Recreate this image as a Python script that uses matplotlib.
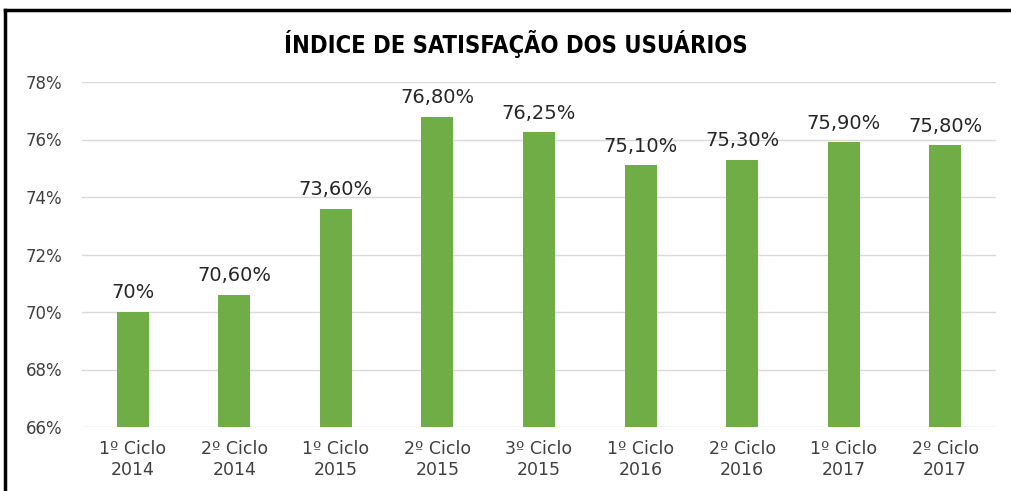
import matplotlib.pyplot as plt
from matplotlib.lines import Line2D
from matplotlib.ticker import FuncFormatter

categories = ["1º Ciclo\n2014", "2º Ciclo\n2014", "1º Ciclo\n2015", "2º Ciclo\n2015",
              "3º Ciclo\n2015", "1º Ciclo\n2016", "2º Ciclo\n2016", "1º Ciclo\n2017",
              "2º Ciclo\n2017"]
values = [70.0, 70.6, 73.6, 76.8, 76.25, 75.1, 75.3, 75.9, 75.8]
labels = ["70%", "70,60%", "73,60%", "76,80%", "76,25%", "75,10%", "75,30%", "75,90%", "75,80%"]
yticks = [66, 68, 70, 72, 74, 76, 78]

fig = plt.figure(figsize=(10.11, 4.91), dpi=100)
ax = fig.add_axes([82 / 1011, 1 - 427 / 491, (996 - 82) / 1011, (427 - 82) / 491])

x = range(len(values))
ax.bar(x, values, width=0.315, color="#70AD47", zorder=3)
ax.set_ylim(66, 78)
ax.set_xlim(-0.5, len(values) - 0.5)
ax.set_yticks(yticks)
ax.yaxis.set_major_formatter(FuncFormatter(lambda v, p: f"{v:.0f}%"))
ax.set_xticks(list(x))
ax.set_xticklabels(categories, fontsize=12.5, color="#404040", linespacing=1.25)
ax.tick_params(axis="y", labelsize=12, labelcolor="#404040", length=0, pad=14)
ax.tick_params(axis="x", length=0, pad=9)
ax.grid(axis="y", color="#D9D9D9", linewidth=1, zorder=0)
for s in ax.spines.values():
    s.set_visible(False)

for xi, v, lab in zip(x, values, labels):
    ax.annotate(lab, (xi, v), xytext=(0, 7), textcoords="offset points",
                ha="center", va="bottom", fontsize=14, color="#262626")

fig.text(516 / 1011, 1 - 44 / 491, "ÍNDICE DE SATISFAÇÃO DOS USUÁRIOS", ha="center", va="center",
         fontsize=17, fontweight="bold", fontstretch="condensed", color="#000000")

# frame lines at top and left
fig.add_artist(Line2D([5 / 1011, 1], [1 - 10 / 491, 1 - 10 / 491], color="black", lw=2.5,
                      transform=fig.transFigure))
fig.add_artist(Line2D([5 / 1011, 5 / 1011], [0, 1 - 10 / 491], color="black", lw=2.5,
                      transform=fig.transFigure))

fig.savefig("out.png", dpi=100)
